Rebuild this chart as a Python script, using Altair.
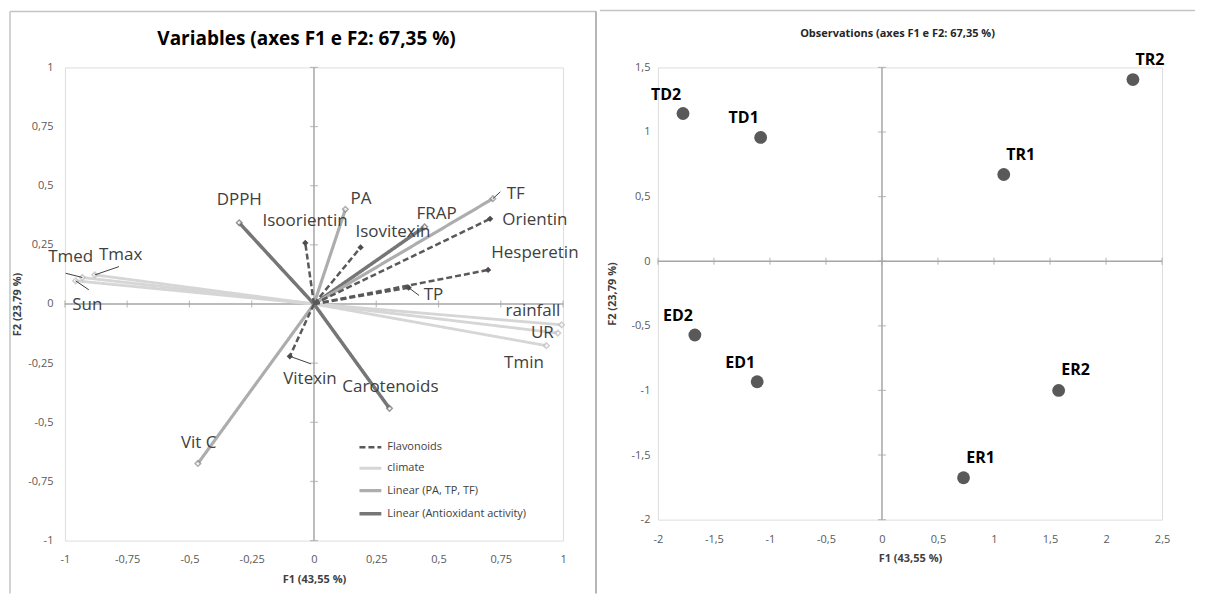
import altair as alt
import pandas as pd

# ---------------- data: variables (loadings on F1/F2) ----------------
var_names = ["Tmed", "Tmax", "Sun", "rainfall", "UR", "Tmin",
             "DPPH", "FRAP", "Carotenoids",
             "PA", "TF", "Vit C",
             "Isoorientin", "Isovitexin", "Orientin", "Hesperetin", "TP", "Vitexin"]
var_groups = (["climate"] * 6 + ["Linear (Antioxidant activity)"] * 3
              + ["Linear (PA, TP, TF)"] * 3 + ["Flavonoids"] * 6)
var_f1 = [-0.93, -0.88, -0.957, 0.994, 0.979, 0.933,
          -0.30, 0.444, 0.303,
          0.126, 0.718, -0.466,
          -0.035, 0.187, 0.707, 0.699, 0.38, -0.097]
var_f2 = [0.112, 0.123, 0.098, -0.088, -0.123, -0.176,
          0.343, 0.326, -0.441,
          0.40, 0.445, -0.674,
          0.258, 0.239, 0.36, 0.144, 0.069, -0.221]
# label anchor positions (data units)
lab_f1 = [-0.977, -0.776, -0.91, 0.879, 0.917, 0.843,
          -0.30, 0.492, 0.307,
          0.189, 0.81, -0.463,
          -0.036, 0.317, 0.887, 0.887, 0.48, -0.016]
lab_f2 = [0.20, 0.207, -0.003, -0.029, -0.123, -0.249,
          0.44, 0.381, -0.349,
          0.444, 0.465, -0.586,
          0.352, 0.305, 0.354, 0.214, 0.039, -0.315]
# leader lines (start near label -> variable end point)
leader_names = ["Tmax", "Tmed", "Sun", "TP", "TF", "Vitexin"]
leader_f1 = [-0.783, -0.997, -0.904, 0.422, 0.748, -0.012]
leader_f2 = [0.158, 0.13, 0.06, 0.036, 0.474, -0.253]

group_domain = ["Flavonoids", "climate", "Linear (PA, TP, TF)", "Linear (Antioxidant activity)"]
group_colors = ["#595959", "#d6d6d6", "#adadad", "#767676"]
group_dash = [[6, 3], [1, 0], [1, 0], [1, 0]]
group_width = [2.5, 3.5, 2.5, 2.5]

left_ticks = [-1, -0.75, -0.5, -0.25, 0, 0.25, 0.5, 0.75, 1]
left_title = "Variables (axes F1 e F2: 67,35 %)"

# ---------------- data: observations ----------------
obs_names = ["TD2", "TD1", "TR1", "TR2", "ED2", "ED1", "ER2", "ER1"]
obs_f1 = [-1.776, -1.083, 1.087, 2.24, -1.67, -1.114, 1.577, 0.728]
obs_f2 = [1.143, 0.958, 0.671, 1.406, -0.571, -0.933, -1.0, -1.676]

right_xticks = [-2, -1.5, -1, -0.5, 0, 0.5, 1, 1.5, 2, 2.5]
right_yticks = [-2, -1.5, -1, -0.5, 0, 0.5, 1, 1.5]
right_title = "Observations (axes F1 e F2: 67,35 %)"

FONT = "Open Sans"
AXIS_GRAY = "#a6a6a6"
LABEL_EXPR = "replace(replace(format(datum.value, '~g'), '.', ','), '\u2212', '-')"

vars_df = pd.DataFrame({"name": var_names, "group": var_groups, "f1": var_f1, "f2": var_f2,
                        "o1": [0.0] * len(var_names), "o2": [0.0] * len(var_names),
                        "l1": lab_f1, "l2": lab_f2})
lead_df = pd.DataFrame({"name": leader_names, "s1": leader_f1, "s2": leader_f2}).merge(
    vars_df[["name", "f1", "f2"]], on="name")
obs_df = pd.DataFrame({"name": obs_names, "f1": obs_f1, "f2": obs_f2})
one_row = pd.DataFrame({"k": [0]})


def axis_x(title, ticks, pad, tpad):
    return alt.Axis(title=title, values=ticks, domain=False, ticks=False, grid=False,
                    labelExpr=LABEL_EXPR, labelFont=FONT, labelFontSize=11, labelColor="#595959",
                    labelPadding=pad, labelFlush=False, labelOverlap=False, labelBound=False,
                    titleFont=FONT, titleFontSize=11, titleFontWeight="bold", titleColor="#404040",
                    titlePadding=tpad, minExtent=25, maxExtent=25)


def axis_y(title, ticks, pad, tpad, ext):
    return alt.Axis(title=title, values=ticks, domain=False, ticks=False, grid=False,
                    labelExpr=LABEL_EXPR, labelFont=FONT, labelFontSize=11, labelColor="#595959",
                    labelPadding=pad, labelFlush=False, labelOverlap=False, labelBound=False,
                    titleFont=FONT, titleFontSize=11, titleFontWeight="bold", titleColor="#404040",
                    titlePadding=tpad, minExtent=ext, maxExtent=ext)


# ================= LEFT PANEL =================
LX = alt.Scale(domain=[-1, 1], nice=False, zero=False)
LY = alt.Scale(domain=[-1, 1], nice=False, zero=False)
lax = axis_x("F1 (43,55 %)", left_ticks, 13, 8)
lay = axis_y("F2 (23,79 %)", left_ticks, 12, 6, 36)


def lx(field):
    return alt.X(field, type="quantitative", scale=LX, axis=lax)


def ly(field):
    return alt.Y(field, type="quantitative", scale=LY, axis=lay)


zero_df = pd.DataFrame({"f1": [-1, 0], "f2": [0, -1], "e1": [1, 0], "e2": [0, 1]})
zero_lines = alt.Chart(zero_df).mark_rule(color=AXIS_GRAY, strokeWidth=1.5).encode(
    x=lx("f1"), y=ly("f2"), x2="e1", y2="e2")
xt_df = pd.DataFrame({"f1": left_ticks, "f2": [0] * len(left_ticks)})
yt_df = pd.DataFrame({"f1": [0] * len(left_ticks), "f2": left_ticks})
xticks_l = alt.Chart(xt_df).mark_tick(orient="vertical", size=7, thickness=1.2, color=AXIS_GRAY).encode(
    x=lx("f1"), y=ly("f2"))
yticks_l = alt.Chart(yt_df).mark_tick(orient="horizontal", size=8, thickness=1.2, color=AXIS_GRAY).encode(
    x=lx("f1"), y=ly("f2"))

legend = alt.Legend(title=None, orient="none", legendX=293, legendY=368,
                    symbolType="stroke", symbolSize=480, symbolStrokeWidth=2.5,
                    labelFont=FONT, labelFontSize=11, labelColor="#404040",
                    rowPadding=3, labelOffset=4, padding=0)
vectors = alt.Chart(vars_df).mark_rule().encode(
    x=lx("o1"), y=ly("o2"), x2="f1", y2="f2",
    color=alt.Color("group:N", scale=alt.Scale(domain=group_domain, range=group_colors), legend=legend),
    strokeDash=alt.StrokeDash("group:N", scale=alt.Scale(domain=group_domain, range=group_dash), legend=legend),
    strokeWidth=alt.StrokeWidth("group:N", scale=alt.Scale(domain=group_domain, range=group_width), legend=None),
)
markers_other = alt.Chart(vars_df).transform_filter(alt.datum.group != "Flavonoids").mark_point(
    shape="diamond", size=32, filled=False, fill="white", strokeWidth=1.5).encode(
    x=lx("f1"), y=ly("f2"),
    stroke=alt.Stroke("group:N", scale=alt.Scale(domain=group_domain,
                                                  range=["#595959", "#bdbdbd", "#8c8c8c", "#6e6e6e"]),
                      legend=None))
markers_flav = alt.Chart(vars_df).transform_filter(alt.datum.group == "Flavonoids").mark_point(
    shape="diamond", size=40, filled=True, color="#4d4d4d", opacity=1).encode(
    x=lx("f1"), y=ly("f2"))
leaders = alt.Chart(lead_df).mark_rule(color="#404040", strokeWidth=1).encode(
    x=lx("s1"), y=ly("s2"), x2="f1", y2="f2")
var_labels = alt.Chart(vars_df).mark_text(font=FONT, fontSize=17, color="#404040",
                                          align="center", baseline="middle").encode(
    x=lx("l1"), y=ly("l2"), text="name:N")

# chart title (drawn inside the spreadsheet-like frame)
ltitle = alt.Chart(one_row).mark_text(text=left_title, font=FONT, fontSize=19, fontWeight="bold",
                                      color="#000000", align="center", baseline="alphabetic").encode(
    x=alt.value(242), y=alt.value(-22))

# spreadsheet-like frame around the left chart
frame_h = alt.Chart(one_row).mark_rule(color="#c4c4c4", strokeWidth=1.5).encode(
    x=alt.value(-55), x2=alt.value(532), y=alt.value(-56))
frame_l = alt.Chart(one_row).mark_rule(color="#c4c4c4", strokeWidth=1.5).encode(
    x=alt.value(-55), y=alt.value(-56), y2=alt.value(527))
frame_r = alt.Chart(one_row).mark_rule(color="#9e9e9e", strokeWidth=1.5).encode(
    x=alt.value(532), y=alt.value(-56), y2=alt.value(527))

left = alt.layer(frame_h, frame_l, frame_r, ltitle, zero_lines, xticks_l, yticks_l, vectors,
                 markers_other, markers_flav, leaders, var_labels).properties(width=499, height=474)

# ================= RIGHT PANEL =================
RX = alt.Scale(domain=[-2, 2.5], nice=False, zero=False)
RY = alt.Scale(domain=[-2, 1.5], nice=False, zero=False)
rax = axis_x("F1 (43,55 %)", right_xticks, 14, 8)
ray = axis_y("F2 (23,79 %)", right_yticks, 8, 10, 30)


def rx(field):
    return alt.X(field, type="quantitative", scale=RX, axis=rax)


def ry(field):
    return alt.Y(field, type="quantitative", scale=RY, axis=ray)


rzero_df = pd.DataFrame({"f1": [-2, 0], "f2": [0, -2], "e1": [2.5, 0], "e2": [0, 1.5]})
rzero = alt.Chart(rzero_df).mark_rule(color=AXIS_GRAY, strokeWidth=1.5).encode(
    x=rx("f1"), y=ry("f2"), x2="e1", y2="e2")
rxt_df = pd.DataFrame({"f1": right_xticks, "f2": [0] * len(right_xticks)})
ryt_df = pd.DataFrame({"f1": [0] * len(right_yticks), "f2": right_yticks})
rxticks = alt.Chart(rxt_df).mark_tick(orient="vertical", size=7, thickness=1.2, color=AXIS_GRAY).encode(
    x=rx("f1"), y=ry("f2"))
ryticks = alt.Chart(ryt_df).mark_tick(orient="horizontal", size=8, thickness=1.2, color=AXIS_GRAY).encode(
    x=rx("f1"), y=ry("f2"))
points = alt.Chart(obs_df).mark_circle(size=165, color="#595959", opacity=1).encode(
    x=rx("f1"), y=ry("f2"))
lab_neg = alt.Chart(obs_df).transform_filter(alt.datum.f1 < 0).mark_text(
    font=FONT, fontSize=16, fontWeight="bold", color="#000000", dx=-17, dy=-19).encode(
    x=rx("f1"), y=ry("f2"), text="name:N")
lab_pos = alt.Chart(obs_df).transform_filter(alt.datum.f1 >= 0).mark_text(
    font=FONT, fontSize=16, fontWeight="bold", color="#000000", dx=17, dy=-20).encode(
    x=rx("f1"), y=ry("f2"), text="name:N")
rtitle = alt.Chart(one_row).mark_text(text=right_title, font=FONT, fontSize=11, fontWeight="bold",
                                      color="#262626", align="center", baseline="alphabetic").encode(
    x=alt.value(240), y=alt.value(-30))
top_line = alt.Chart(one_row).mark_rule(color="#c4c4c4", strokeWidth=1.5).encode(
    x=alt.value(-58), x2=alt.value(538), y=alt.value(-57))

right = alt.layer(top_line, rtitle, rzero, rxticks, ryticks, points, lab_neg, lab_pos).properties(
    width=505, height=453)

chart = alt.hconcat(left, right, spacing=0).properties(
    padding={"left": 0, "top": 0, "right": 0, "bottom": 0}
).configure_view(stroke=None).configure(font=FONT)

chart.save("out.html", embed_options={"renderer": "svg", "actions": False})
